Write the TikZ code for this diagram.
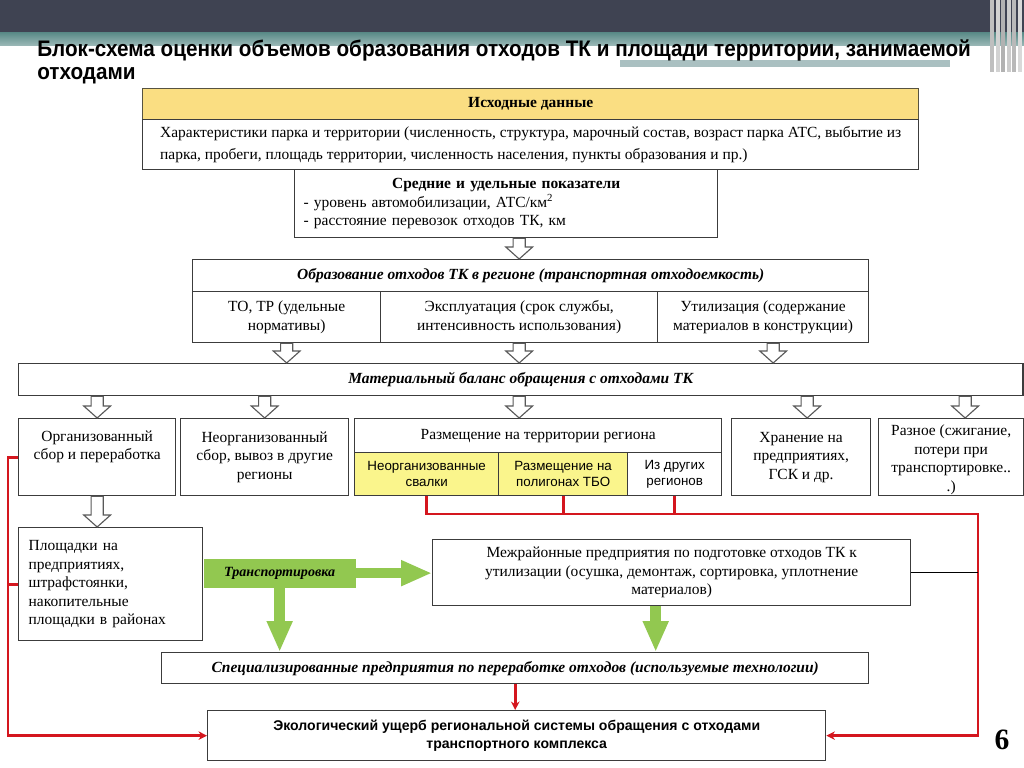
\documentclass[tikz,border=0pt]{standalone}
\usepackage{fontspec}
\setmainfont{Liberation Serif}
\setsansfont{Liberation Sans}
\newfontfamily\titlefont[FakeStretch=0.92]{Liberation Sans}
\usetikzlibrary{arrows.meta, calc, positioning}
\definecolor{topdark}{RGB}{63,67,82}
\definecolor{tealband}{RGB}{92,140,137}
\definecolor{greybar}{RGB}{170,192,193}
\definecolor{boxline}{RGB}{60,60,60}
\definecolor{hdryellow}{RGB}{250,222,130}
\definecolor{cellyellow}{RGB}{250,245,140}
\definecolor{mygreen}{RGB}{146,200,80}
\definecolor{myred}{RGB}{212,22,30}
\tikzstyle{box} = [rectangle, anchor=north west, draw=boxline, line width=0.9pt, inner sep=0pt, align=center, font=\fontsize{11}{13.2}\selectfont]
\tikzstyle{boldit} = [box, font=\fontsize{11}{13.2}\selectfont\bfseries\itshape]
\tikzstyle{sanssmall} = [box, font=\sffamily\fontsize{9.5}{11.2}\selectfont]
\tikzstyle{redline} = [draw=myred, line width=2pt]
\tikzstyle{redarrow} = [redline, -{Stealth[length=6pt,width=6pt]}]
\tikzstyle{greenarrow} = [draw=mygreen, line width=7.5pt, -{Triangle[length=22pt,width=17pt]}]
\tikzstyle{hollow} = [draw=gray!70!black, fill=white, line width=0.8pt]
% hollow block arrow pointing down, from #1 to the height of #2
\newcommand{\hollowdown}[2]{%
  \draw[hollow] let \p1=(#1), \p2=(#2) in
    (\x1-4.3pt,\y1) -- (\x1+4.3pt,\y1) -- (\x1+4.3pt,\y2+8.5pt) -- (\x1+9.5pt,\y2+8.5pt)
    -- (\x1,\y2) -- (\x1-9.5pt,\y2+8.5pt) -- (\x1-4.3pt,\y2+8.5pt) -- cycle;}
\begin{document}
\begin{tikzpicture}[x=0.025cm, y=-0.025cm]
\useasboundingbox (0,0) rectangle (1024,768);
% slide background
\fill[white] (0,0) rectangle (1024,768);
\fill[topdark] (0,0) rectangle (1024,33);
\shade[top color=tealband, bottom color=tealband!60!white] (0,33) rectangle (1024,46);
\fill[greybar] (620,60) rectangle (950,67);
\foreach \xs/\sh in {990/50, 996/35, 1001/60, 1007/40, 1012/55, 1018/30}
  \fill[gray!\sh] (\xs,0) rectangle (\xs+4,72);
\node (title) [anchor=north west, inner sep=0pt, align=left, font=\titlefont\bfseries\fontsize{16}{17}\selectfont] at (37,39)
  {Блок-схема оценки объемов образования отходов ТК и площади территории, занимаемой\\отходами};

\node (ishod) [box, fill=hdryellow, draw=black!60!yellow!60!black, minimum width=19.4cm, minimum height=0.775cm, font=\fontsize{11}{13.2}\selectfont\bfseries] at (142,88) {Исходные данные};
\node (harakt) [box, minimum width=19.4cm, minimum height=1.25cm, align=left] at (142,119)
  {Характеристики парка и территории (численность, структура, марочный состав, возраст парка АТС, выбытие из\\[2pt]
   парка, пробеги, площадь территории, численность населения, пункты образования и пр.)};
\node (sred) [box, minimum width=10.575cm, minimum height=1.7cm, text width=10.125cm, align=left] at (294,169)
  {\makebox[10.125cm]{\bfseries Средние и удельные показатели}\\
   - уровень автомобилизации, АТС/км\textsuperscript{2}\\
   - расстояние перевозок отходов ТК, км};

\node (obraz) [boldit, minimum width=16.9cm, minimum height=0.8cm] at (192,259) {Образование отходов ТК в регионе (транспортная отходоемкость)};
\node (to_tr) [box, minimum width=4.7cm, minimum height=1.275cm] at (192,291) {ТО, ТР (удельные\\ нормативы)};
\node (ekspl) [box, minimum width=6.925cm, minimum height=1.275cm] at (380,291) {Эксплуатация (срок службы,\\ интенсивность использования)};
\node (util) [box, minimum width=5.275cm, minimum height=1.275cm] at (657,291) {Утилизация (содержание\\ материалов в конструкции)};

\node (balans) [boldit, minimum width=25.1cm, minimum height=0.8cm] at (18,363) {Материальный баланс обращения с отходами ТК};

\node (org) [box, minimum width=3.925cm, minimum height=1.925cm] at (18,418) {Организованный\\ сбор и переработка\\ \strut};
\node (neorg) [box, minimum width=4.2cm, minimum height=1.925cm] at (180,418) {Неорганизованный\\ сбор, вывоз в другие\\ регионы};
\node (razm) [box, minimum width=9.175cm, minimum height=0.85cm] at (354,418) {Размещение на территории региона};
\node (svalki) [sanssmall, fill=cellyellow, minimum width=3.6cm, minimum height=1.075cm] at (354,452) {Неорганизованные\\ свалки};
\node (poligon) [sanssmall, fill=cellyellow, minimum width=3.225cm, minimum height=1.075cm] at (498,452) {Размещение на\\ полигонах ТБО};
\node (drugie) [sanssmall, minimum width=2.35cm, minimum height=1.075cm] at (627,452) {Из других\\ регионов};
\node (hran) [box, minimum width=3.475cm, minimum height=1.925cm] at (731,418) {Хранение на\\ предприятиях,\\ ГСК и др.};
\node (raznoe) [box, minimum width=3.625cm, minimum height=1.925cm] at (878,418) {\mbox{}\\[-2pt] Разное (сжигание,\\ потери при\\ транспортировке..\\ .)};

\node (plosh) [box, minimum width=4.6cm, minimum height=2.825cm, text width=4.1cm, align=left] at (18,527)
  {Площадки на\\ предприятиях,\\ штрафстоянки,\\ накопительные\\ площадки в районах};
\node (transp) [boldit, draw=none, fill=mygreen, minimum width=3.8cm, minimum height=0.725cm, font=\fontsize{10}{12}\selectfont\bfseries\itshape] at (203,558) {Транспортировка};
\node (mezhr) [box, minimum width=11.95cm, minimum height=1.65cm] at (432,539)
  {Межрайонные предприятия по подготовке отходов ТК к\\ утилизации (осушка, демонтаж, сортировка, уплотнение\\ материалов)};
\node (spec) [boldit, minimum width=17.675cm, minimum height=0.775cm] at (161,652) {Специализированные предприятия по переработке отходов (используемые технологии)};
\node (ekol) [box, minimum width=15.45cm, minimum height=1.25cm, font=\sffamily\fontsize{10}{13}\selectfont\bfseries] at (207,710)
  {Экологический ущерб региональной системы обращения с отходами\\ транспортного комплекса};
\node (page) [inner sep=0pt, font=\fontsize{21}{21}\selectfont\bfseries] at (1002,740) {6};

% hollow block arrows
\hollowdown{sred.south -| ekspl.north}{obraz.north}
\hollowdown{to_tr.south}{balans.north}
\hollowdown{ekspl.south}{balans.north}
\hollowdown{[xshift=0.25cm]util.south}{balans.north}
\hollowdown{balans.south -| org.north}{org.north}
\hollowdown{balans.south -| neorg.north}{neorg.north}
\hollowdown{balans.south -| ekspl.south}{razm.north}
\hollowdown{[xshift=0.15cm]balans.south -| hran.north}{hran.north}
\hollowdown{[xshift=0.35cm]balans.south -| raznoe.north}{raznoe.north}
\hollowdown{org.south}{plosh.north}

% green arrows
\draw [greenarrow] (transp.east) -- (mezhr.west |- transp.east);
\draw [greenarrow] (transp.south) -- (transp.south |- spec.north);
\draw [greenarrow] ([xshift=-0.4cm]mezhr.south) -- ([xshift=-0.4cm]mezhr.south |- spec.north);

% red lines
\coordinate (lcol) at (8,0);
\coordinate (rcol) at (978,514);
\draw [redarrow] (org.west) -- (org.west -| lcol) |- (ekol.west);
\draw [redline] (plosh.west) -- (plosh.west -| lcol);
\draw [redarrow] (svalki.south) |- (rcol) |- (ekol.east);
\draw [redline] (poligon.south) -- (poligon.south |- rcol);
\draw [redline] (drugie.south) -- (drugie.south |- rcol);
\draw [redarrow] (spec.south) -- (spec.south |- ekol.north);
\draw [black, line width=0.6pt] (mezhr.east) -- (mezhr.east -| rcol);
\end{tikzpicture}
\end{document}
